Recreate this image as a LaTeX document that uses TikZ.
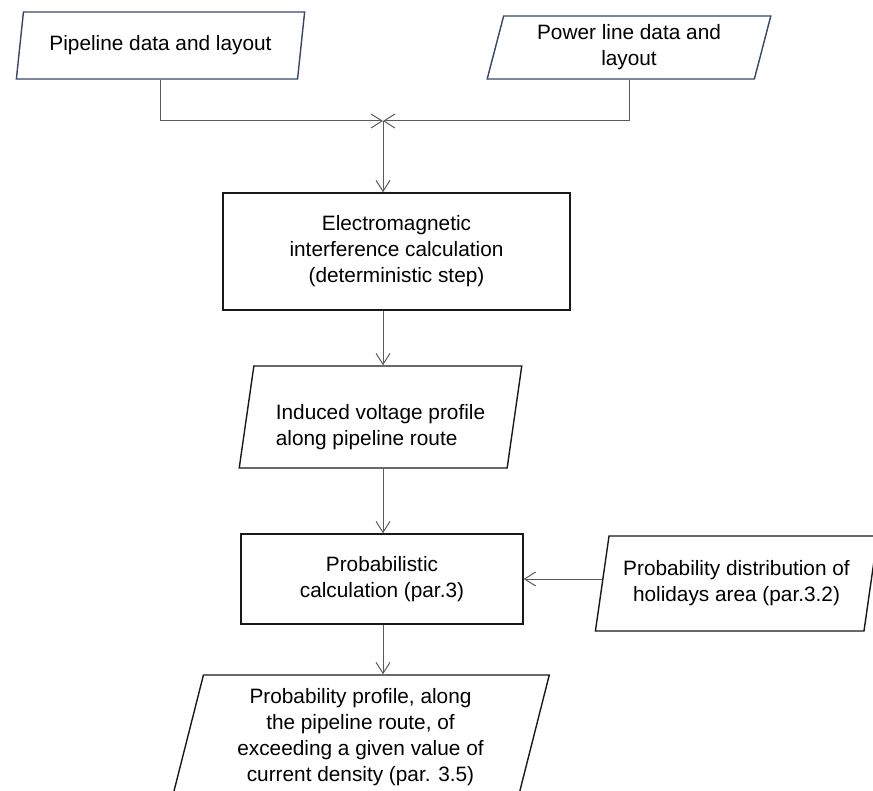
\documentclass[tikz,border=0pt]{standalone}
\usepackage{fontspec}
\setmainfont{Liberation Sans}
\usepackage{xcolor}
\usepackage{tikz}
\usetikzlibrary{shapes,arrows,positioning,calc,shapes.geometric,arrows.meta}

\definecolor{inedge}{HTML}{34466A}
\definecolor{flowgray}{HTML}{5A5A5A}

% text that sits a bit lower than the middle of its box
\newcommand{\lowline}[1]{\raisebox{-10pt}[\height][\depth]{#1}}

\tikzset{
  txt/.style={font=\fontsize{20.8}{26}\selectfont},
  databox/.style={txt, trapezium, trapezium left angle=76, trapezium right angle=104,
    trapezium stretches=true, draw=black!90, line width=1.4pt, align=center, inner sep=2pt},
  procbox/.style={txt, rectangle, draw=black!90, line width=1.4pt, align=center},
  flow/.style={draw=flowgray, line width=1pt, -{Straight Barb[length=11pt,width=14pt]}}
}

\begin{document}
\begin{tikzpicture}[x=1pt,y=-1pt]
    \useasboundingbox (0,0) rectangle (873,791);

    % Input data (top)
    \node[databox, draw=inedge, minimum width=289pt, minimum height=67pt] (pipe) at (160.5,45.5) {Pipeline data and layout};
    \node[databox, draw=inedge, minimum width=284pt, minimum height=63pt] (power) at (629,47.5) {Power line data and\\layout};
    \coordinate (jn) at (383,121);

    % Deterministic part
    \node[procbox, minimum width=347pt, minimum height=117pt] (emi) at (396.5,251.5) {Electromagnetic\\interference calculation\\(deterministic step)};
    \node[databox, align=left, minimum width=283pt, minimum height=102pt] (ind) at (380.5,417) {\lowline{Induced voltage profile}\\\lowline{along pipeline route}};

    % Probabilistic part
    \node[procbox, minimum width=282pt, minimum height=90pt] (prob) at (382,579) {Probabilistic\\calculation (par.3)};
    \node[databox, minimum width=283pt, minimum height=95pt] (hol) at (736.5,583.5) {Probability distribution of\\holidays area (par.3.2)};
    \node[databox, minimum width=379pt, minimum height=125pt] (out) at (360.5,737.5) {Probability profile, along\\the pipeline route, of\\exceeding a given value of\\current density (par. 3.5)};

    % Arrows
    \draw[flow] (pipe.center |- pipe.south) |- (jn);
    \draw[flow] (power.center |- power.south) |- (jn);
    \draw[flow] (jn) -- (jn |- emi.north);
    \draw[flow] (emi.south -| jn) -- (jn |- ind.north);
    \draw[flow] (ind.south -| jn) -- (jn |- prob.north);
    \draw[flow] (prob.south -| jn) -- (jn |- out.north);
    \draw[flow] (hol.west |- prob.east) -- (prob.east);

\end{tikzpicture}
\end{document}
